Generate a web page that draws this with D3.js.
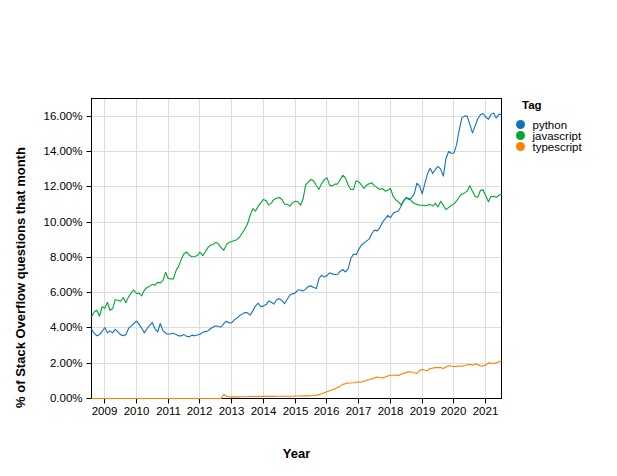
<!DOCTYPE html>
<html>
<head>
<meta charset="utf-8">
<script src="https://cdn.jsdelivr.net/npm/d3@7"></script>
<style>
  html, body { margin: 0; padding: 0; background: #fff; }
  svg { display: block; font-family: "Liberation Sans", Arial, Helvetica, sans-serif; }
</style>
</head>
<body>
<svg id="chart" width="617" height="476"></svg>
<script>
// ---------- data ----------
const firstMonth = "2008-08-01";
const lastMonth = "2021-07-01";
const tags = ["python", "javascript", "typescript"];
const tagColors = ["#1172bf", "#00a82d", "#ff8000"];

const python = [
  3.93, 3.70, 3.55, 3.62, 3.80, 4.02, 3.72, 3.83, 3.72, 3.92,
  3.78, 3.62, 3.56, 3.62, 3.97, 4.12, 4.25, 4.38, 4.20, 3.98,
  3.72, 3.95, 4.15, 4.31, 3.95, 3.77, 4.25, 3.85, 3.70, 3.64,
  3.67, 3.70, 3.62, 3.55, 3.55, 3.62, 3.52, 3.50, 3.59, 3.55,
  3.60, 3.64, 3.75, 3.79, 3.83, 3.95, 4.05, 4.12, 4.08, 4.05,
  4.25, 4.38, 4.28, 4.30, 4.47, 4.55, 4.70, 4.78, 4.87, 4.85,
  4.72, 4.98, 5.25, 5.40, 5.20, 5.25, 5.32, 5.52, 5.45, 5.35,
  5.60, 5.66, 5.55, 5.38, 5.62, 5.87, 5.93, 5.98, 6.15, 6.15,
  6.10, 6.20, 6.36, 6.38, 6.29, 6.23, 6.80, 6.99, 6.88, 6.97,
  7.12, 7.06, 7.03, 7.04, 7.20, 7.31, 7.17, 7.35, 7.93, 8.18,
  8.15, 8.45, 8.70, 8.80, 8.93, 9.03, 9.35, 9.54, 9.50, 9.68,
  10.00, 10.18, 10.38, 10.25, 10.50, 10.57, 10.63, 10.88, 11.20, 11.37,
  11.28, 11.38, 11.60, 12.20, 12.05, 11.60, 12.20, 12.70, 13.05, 12.75,
  12.97, 13.15, 13.00, 12.60, 13.60, 14.00, 13.90, 13.90, 14.40, 15.20,
  15.90, 16.00, 16.00, 15.55, 15.05, 15.45, 15.85, 16.08, 16.15, 15.95,
  15.82, 16.10, 16.18, 15.90, 16.10, 16.10
];

const javascript = [
  4.62, 4.90, 5.00, 4.66, 5.20, 5.12, 5.45, 5.00, 5.08, 5.60,
  5.57, 5.51, 5.72, 5.42, 5.76, 5.98, 6.15, 5.95, 5.96, 5.82,
  6.14, 6.29, 6.35, 6.47, 6.42, 6.58, 6.55, 6.68, 7.15, 6.80,
  6.78, 6.78, 7.25, 7.50, 7.90, 8.20, 8.30, 8.12, 8.03, 8.05,
  8.10, 8.30, 8.10, 8.30, 8.55, 8.69, 8.73, 8.85, 8.75, 8.55,
  8.40, 8.72, 8.85, 8.90, 8.95, 9.00, 9.15, 9.38, 9.62, 9.90,
  10.40, 10.76, 10.62, 10.90, 11.10, 11.28, 11.20, 10.97, 11.07, 11.28,
  11.35, 11.39, 11.28, 11.01, 11.01, 10.90, 11.10, 11.18, 11.15, 10.95,
  11.30, 12.10, 12.27, 12.41, 12.32, 12.07, 11.85, 12.18, 12.40, 12.50,
  12.09, 12.05, 12.15, 12.15, 12.40, 12.65, 12.50, 12.10, 11.84, 11.85,
  12.33, 12.28, 12.10, 11.90, 12.09, 12.17, 12.22, 12.05, 11.95, 11.84,
  11.90, 11.75, 11.80, 11.90, 11.45, 11.26, 11.14, 10.97, 11.22, 11.38,
  11.33, 11.18, 11.05, 11.00, 10.95, 10.95, 10.92, 10.95, 11.00, 10.90,
  11.06, 10.85, 11.18, 10.96, 10.70, 10.82, 10.94, 11.03, 11.20, 11.42,
  11.58, 11.65, 11.75, 12.05, 11.75, 11.45, 11.40, 11.80, 11.82, 11.48,
  11.15, 11.44, 11.46, 11.40, 11.52, 11.58
];

const typescript = [
  0, 0, 0, 0, 0, 0, 0, 0, 0, 0,
  0, 0, 0, 0, 0, 0, 0, 0, 0, 0,
  0, 0, 0, 0, 0, 0, 0, 0, 0, 0,
  0, 0, 0, 0, 0, 0, 0, 0, 0, 0,
  0, 0, 0, 0, 0, 0, 0, 0, 0, 0,
  0.24, 0.12, 0.10, 0.09, 0.09, 0.09, 0.10, 0.10, 0.10, 0.10,
  0.11, 0.11, 0.11, 0.11, 0.12, 0.12, 0.12, 0.12, 0.12, 0.12,
  0.13, 0.13, 0.13, 0.13, 0.13, 0.13, 0.13, 0.14, 0.14, 0.14,
  0.15, 0.15, 0.15, 0.16, 0.17, 0.19, 0.22, 0.27, 0.33, 0.38,
  0.44, 0.49, 0.54, 0.63, 0.70, 0.80, 0.84, 0.88, 0.88, 0.89,
  0.92, 0.93, 0.94, 0.96, 1.03, 1.08, 1.11, 1.17, 1.22, 1.19,
  1.17, 1.22, 1.28, 1.32, 1.32, 1.32, 1.31, 1.38, 1.42, 1.48,
  1.51, 1.50, 1.46, 1.42, 1.58, 1.64, 1.60, 1.58, 1.70, 1.72,
  1.76, 1.75, 1.76, 1.70, 1.78, 1.86, 1.84, 1.80, 1.83, 1.84,
  1.83, 1.87, 1.91, 1.93, 1.89, 1.95, 1.93, 1.84, 1.85, 1.90,
  2.02, 2.00, 1.98, 2.02, 2.08, 2.12
];

const yTicks = [0, 0.02, 0.04, 0.06, 0.08, 0.10, 0.12, 0.14, 0.16];
const yMax = 0.17;
const xTitle = "Year";
const yTitle = "% of Stack Overflow questions that month";
const legendTitle = "Tag";

// ---------- layout ----------
const svg = d3.select("#chart");
const W = 410, H = 300;
const g = svg.append("g").attr("transform", "translate(91.5,98.5)");

const parse = d3.utcParse("%Y-%m-%d");
const months = d3.utcMonth.range(parse(firstMonth), d3.utcMonth.offset(parse(lastMonth), 1));
const seriesValues = [python, javascript, typescript];
const series = tags.map((t, i) => ({
  tag: t,
  values: seriesValues[i].map((v, j) => ({ date: months[j], value: v / 100 }))
}));

const x = d3.scaleUtc().domain([parse(firstMonth), parse(lastMonth)]).range([0, W]);
const y = d3.scaleLinear().domain([0, yMax]).range([H, 0]);
const color = d3.scaleOrdinal().domain(tags).range(tagColors);

const yearTicks = x.ticks(d3.utcYear.every(1));

// gridlines
g.append("g").selectAll("line").data(yearTicks).join("line")
  .attr("x1", d => Math.round(x(d))).attr("x2", d => Math.round(x(d)))
  .attr("y1", 0).attr("y2", H)
  .attr("stroke", "#dddddd").attr("stroke-width", 1);
g.append("g").selectAll("line").data(yTicks).join("line")
  .attr("x1", 0).attr("x2", W)
  .attr("y1", d => Math.round(y(d))).attr("y2", d => Math.round(y(d)))
  .attr("stroke", "#dddddd").attr("stroke-width", 1);

// axes
const xAxis = d3.axisBottom(x).tickValues(yearTicks).tickFormat(d3.utcFormat("%Y"))
  .tickSize(5).tickPadding(3);
const xg = g.append("g").attr("transform", `translate(0,${H})`).call(xAxis);
xg.select(".domain").remove();
xg.selectAll(".tick").attr("transform", d => `translate(${Math.round(x(d))},0)`);
xg.selectAll(".tick line").attr("stroke", "#000");
xg.selectAll(".tick text").attr("font-size", 11.5).attr("fill", "#000")
  .attr("font-family", "Liberation Sans, Arial, sans-serif");

const yAxis = d3.axisLeft(y).tickValues(yTicks).tickFormat(d3.format(".2%"))
  .tickSize(5).tickPadding(4);
const yg = g.append("g").call(yAxis);
yg.select(".domain").remove();
yg.selectAll(".tick").attr("transform", d => `translate(0,${Math.round(y(d))})`);
yg.selectAll(".tick line").attr("stroke", "#000");
yg.selectAll(".tick text").attr("font-size", 11.5).attr("fill", "#000")
  .attr("font-family", "Liberation Sans, Arial, sans-serif");

// frame
g.append("rect").attr("x", 0).attr("y", 0).attr("width", W).attr("height", H)
  .attr("fill", "none").attr("stroke", "#000").attr("stroke-width", 1);

// lines
const line = d3.line().x(d => x(d.date)).y(d => y(d.value));
g.append("g").selectAll("path").data(series).join("path")
  .attr("fill", "none")
  .attr("stroke", d => color(d.tag))
  .attr("stroke-width", 1.1)
  .attr("stroke-linejoin", "round")
  .attr("d", d => line(d.values));

// axis titles
svg.append("text").attr("x", 91.5 + W / 2).attr("y", 458)
  .attr("text-anchor", "middle").attr("font-size", 13).attr("font-weight", "bold")
  .text(xTitle);
svg.append("text").attr("transform", "translate(24.5,277.5) rotate(-90)")
  .attr("text-anchor", "middle").attr("font-size", 13).attr("font-weight", "bold")
  .text(yTitle);

// legend
const lg = svg.append("g").attr("transform", "translate(516,0)");
lg.append("text").attr("x", 6).attr("y", 108.5).attr("font-size", 11.5)
  .attr("font-weight", "bold").text(legendTitle);
const items = lg.selectAll("g").data(tags).join("g")
  .attr("transform", (d, i) => `translate(0,${124.5 + i * 11})`);
items.append("circle").attr("cx", 4.5).attr("cy", 0).attr("r", 4.5)
  .attr("fill", d => color(d));
items.append("text").attr("x", 16.5).attr("y", 0).attr("dy", "0.35em")
  .attr("font-size", 11.5).text(d => d);
</script>
</body>
</html>
